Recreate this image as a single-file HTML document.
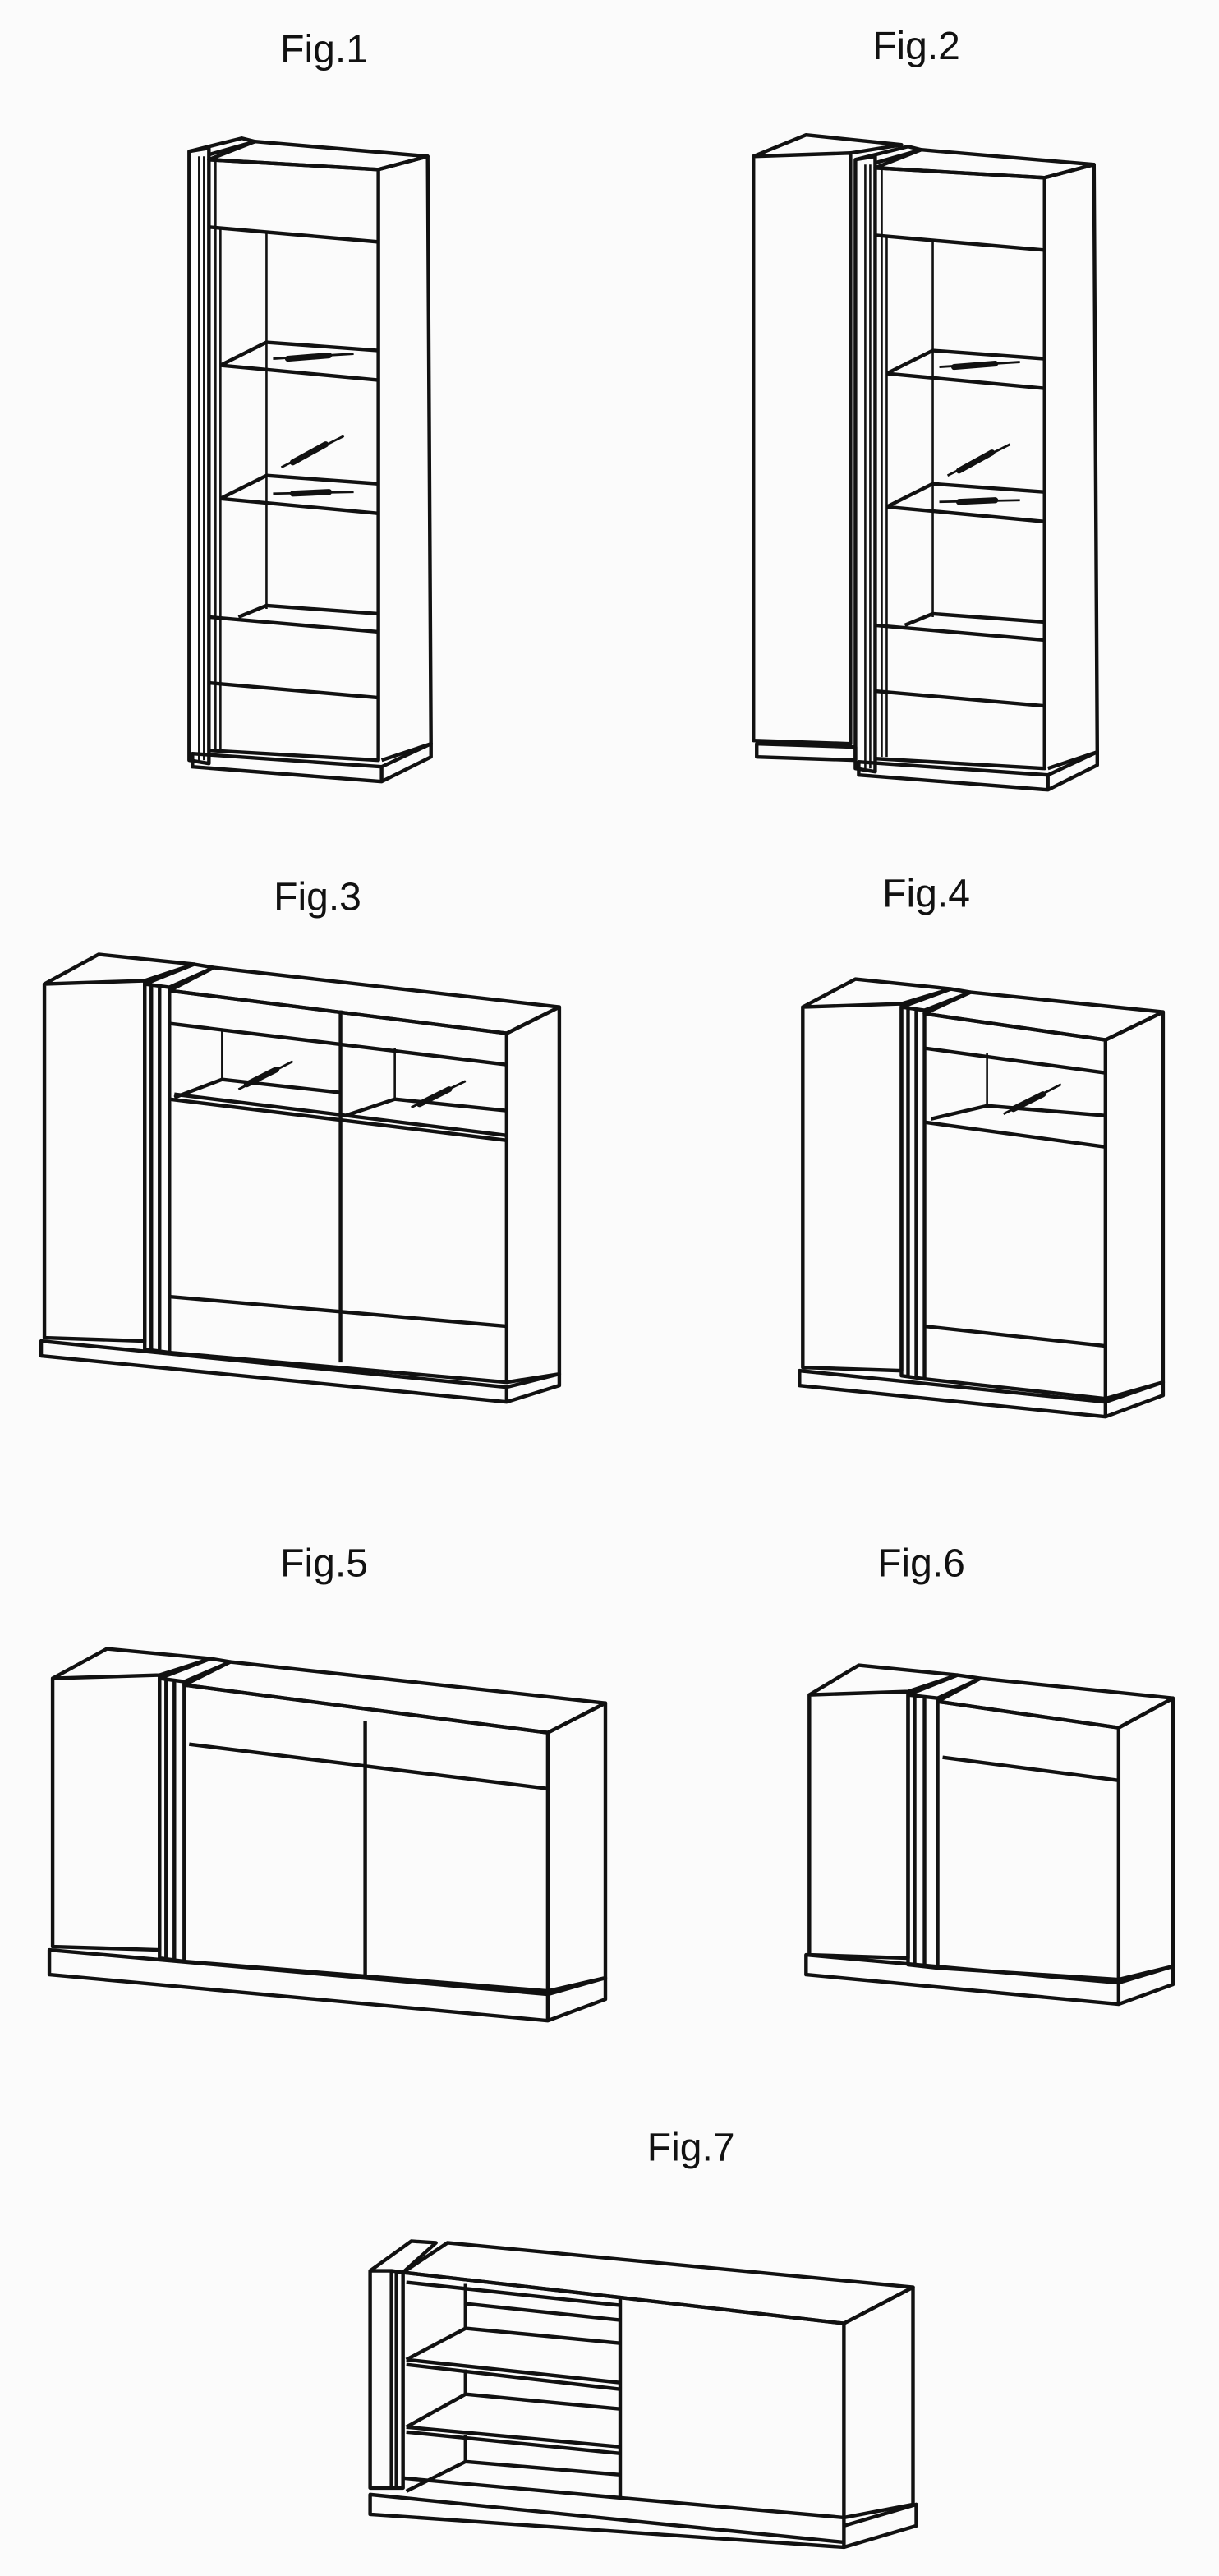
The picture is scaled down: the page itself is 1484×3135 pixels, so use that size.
<!DOCTYPE html>
<html><head><meta charset="utf-8"><style>
html,body{margin:0;padding:0;background:#fbfbfb;}
svg{display:block;}
text{font-family:"Liberation Sans",sans-serif;font-size:24px;fill:#111;text-anchor:middle;}
.l{fill:none;stroke:#111;stroke-width:2.2;stroke-linejoin:round;}
.t{fill:none;stroke:#111;stroke-width:1.3;}
.h{fill:none;stroke:#111;stroke-width:3.6;stroke-linecap:round;}
.hl{fill:none;stroke:#111;stroke-width:1.4;}
</style></head><body>
<svg width="1484" height="3135" viewBox="0 0 741 1565.5" preserveAspectRatio="none">
<rect width="741" height="1566" fill="#fbfbfb"/>
<text x="197" y="38">Fig.1</text>
<text x="557" y="36">Fig.2</text>
<text x="193" y="553">Fig.3</text>
<text x="563" y="551">Fig.4</text>
<text x="197" y="958">Fig.5</text>
<text x="560" y="958">Fig.6</text>
<text x="420" y="1313">Fig.7</text>

<defs>
<g id="vit">
  <path class="l" d="M115,92 L127,90 L127,464 L115,462 Z"/>
  <path class="l" d="M115,92 L147,84 L155,86 L127,94"/>
  <line class="t" x1="121" y1="95" x2="121" y2="462"/>
  <line class="t" x1="124" y1="95" x2="124" y2="462"/>
  <path class="l" d="M127,97 L155,86 L260,95 L230,103 Z"/>
  <path class="l" d="M127,97 L230,103 L230,462 L127,456"/>
  <line class="t" x1="131" y1="98" x2="131" y2="455"/>
  <line class="t" x1="134" y1="138" x2="134" y2="455"/>
  <path class="l" d="M230,103 L260,95 L262,452 L232,462"/>
  <line class="l" x1="127" y1="138" x2="230" y2="147"/>
  <line class="t" x1="162" y1="141" x2="162" y2="370"/>
  <path class="l" d="M134,222 L230,231 M162,208 L230,213 M134,222 L162,208"/>
  <path class="l" d="M134,303 L230,312 M162,289 L230,294 M134,303 L162,289"/>
  <path class="l" d="M127,375 L230,384 M162,368 L230,373 M145,375 L162,368"/>
  <line class="l" x1="127" y1="415" x2="230" y2="424"/>
  <path class="l" d="M117,458 L232,466 L232,475 L117,466 Z M232,466 L262,452 L262,460 L232,475"/>
  <path class="hl" d="M166,218 L215,215"/><path class="h" d="M175,218 L200,216"/>
  <path class="hl" d="M171,284 L209,265"/><path class="h" d="M178,281 L198,270"/>
  <path class="hl" d="M166,300 L215,299"/><path class="h" d="M178,300 L200,299"/>
</g>
</defs>

<use href="#vit"/>

<g transform="translate(405,5)"><use href="#vit"/></g>
<path class="l" d="M458,95 L517,93 L517,452 L458,450 Z M458,95 L490,82 L548,88 L517,93"/>
<path class="l" d="M460,452 L520,454 L520,462 L460,460 Z"/>

<path class="l" d="M27,598 L88,596 L88,815 L27,813 Z M27,598 L60,580 L118,586 L88,596"/>
<path class="l" d="M88,598 L103,600 L103,822 L88,820 Z M92,598 L92,820 M97,599 L97,821 M88,598 L118,586 L130,588 L103,600"/>
<path class="l" d="M103,602 L130,588 L340,612 L308,628 Z"/>
<path class="l" d="M103,602 L308,628 L308,840 L103,822"/>
<path class="l" d="M308,628 L340,612 L340,835 L308,840"/>
<line class="l" x1="207" y1="614" x2="207" y2="828"/>
<line class="l" x1="103" y1="622" x2="308" y2="647"/>
<path class="t" d="M135,625 L135,656 M240,637 L240,668"/>
<path class="l" d="M106,665 L308,690 M106,667 L135,656 L207,664 M210,678 L240,668 L308,675"/>
<line class="l" x1="103" y1="668" x2="308" y2="693"/>
<line class="l" x1="103" y1="788" x2="308" y2="806"/>
<path class="l" d="M25,815 L308,843 L308,852 L25,824 Z M308,843 L340,835 L340,842 L308,852"/>
<path class="hl" d="M145,662 L178,645"/><path class="h" d="M150,659 L168,650"/>
<path class="hl" d="M250,673 L283,657"/><path class="h" d="M255,671 L273,662"/>

<path class="l" d="M488,612 L548,610 L548,833 L488,831 Z M488,612 L520,595 L578,601 L548,610"/>
<path class="l" d="M548,612 L562,614 L562,838 L548,836 Z M552,612 L552,836 M557,613 L557,837 M548,612 L578,601 L590,603 L562,614"/>
<path class="l" d="M562,616 L590,603 L707,615 L672,632 Z"/>
<path class="l" d="M562,616 L672,632 L672,850 L562,838"/>
<path class="l" d="M672,632 L707,615 L707,840 L672,850"/>
<line class="l" x1="562" y1="637" x2="672" y2="652"/>
<path class="t" d="M600,640 L600,672"/>
<path class="l" d="M566,680 L600,672 L672,678 M562,682 L672,697"/>
<line class="l" x1="562" y1="806" x2="672" y2="818"/>
<path class="l" d="M486,833 L672,852 L672,861 L486,842 Z M672,852 L707,840 L707,848 L672,861"/>
<path class="hl" d="M610,677 L645,659"/><path class="h" d="M616,674 L634,665"/>

<path class="l" d="M32,1020 L97,1018 L97,1185 L32,1183 Z M32,1020 L65,1002 L128,1008 L97,1018"/>
<path class="l" d="M97,1020 L112,1022 L112,1192 L97,1190 Z M101,1020 L101,1190 M106,1021 L106,1191 M97,1020 L128,1008 L140,1010 L112,1022"/>
<path class="l" d="M112,1024 L140,1010 L368,1035 L333,1053 Z"/>
<path class="l" d="M112,1024 L333,1053 L333,1210 L112,1192"/>
<path class="l" d="M333,1053 L368,1035 L368,1202 L333,1210"/>
<line class="l" x1="115" y1="1060" x2="333" y2="1087"/>
<line class="l" x1="222" y1="1046" x2="222" y2="1200"/>
<path class="l" d="M30,1185 L333,1212 L333,1228 L30,1200 Z M333,1212 L368,1202 L368,1215 L333,1228"/>

<path class="l" d="M492,1030 L552,1028 L552,1190 L492,1188 Z M492,1030 L522,1012 L582,1018 L552,1028"/>
<path class="l" d="M552,1030 L570,1032 L570,1196 L552,1194 Z M556,1030 L556,1194 M562,1031 L562,1195 M552,1030 L582,1018 L596,1020 L570,1032"/>
<path class="l" d="M570,1034 L596,1020 L713,1032 L680,1050 Z"/>
<path class="l" d="M570,1034 L680,1050 L680,1203 L570,1196"/>
<path class="l" d="M680,1050 L713,1032 L713,1195 L680,1203"/>
<line class="l" x1="573" y1="1068" x2="680" y2="1082"/>
<path class="l" d="M490,1188 L680,1205 L680,1218 L490,1200 Z M680,1205 L713,1195 L713,1206 L680,1218"/>

<path class="l" d="M225,1380 L238,1380 L238,1512 L225,1512 Z M238,1380 L245,1381 L245,1512 L238,1512 M241,1381 L241,1512"/>
<path class="l" d="M225,1380 L250,1362 L265,1363 L245,1381"/>
<path class="l" d="M245,1381 L272,1363 L555,1390 L513,1412 Z"/>
<path class="l" d="M245,1381 L513,1412 L513,1530"/>
<path class="l" d="M513,1412 L555,1390 L555,1522 L513,1530"/>
<path class="l" d="M377,1397 L377,1518 L513,1530"/>
<path class="l" d="M247,1387 L377,1401 M283,1388 L283,1400 L377,1410"/>
<path class="l" d="M247,1434 L377,1448 M247,1434 L283,1415 M283,1400 L283,1415 L377,1424 M247,1437 L377,1452"/>
<path class="l" d="M247,1475 L377,1487 M247,1475 L283,1455 M283,1440 L283,1455 L377,1464 M247,1478 L377,1491"/>
<path class="l" d="M247,1514 L283,1496 M283,1480 L283,1496 L377,1504"/>
<path class="l" d="M245,1506 L377,1518"/>
<path class="l" d="M225,1516 L513,1545 L513,1548 L225,1528 Z M513,1530 L513,1548 M513,1535 L557,1522 L557,1535 L513,1548"/>
</svg>
</body></html>
